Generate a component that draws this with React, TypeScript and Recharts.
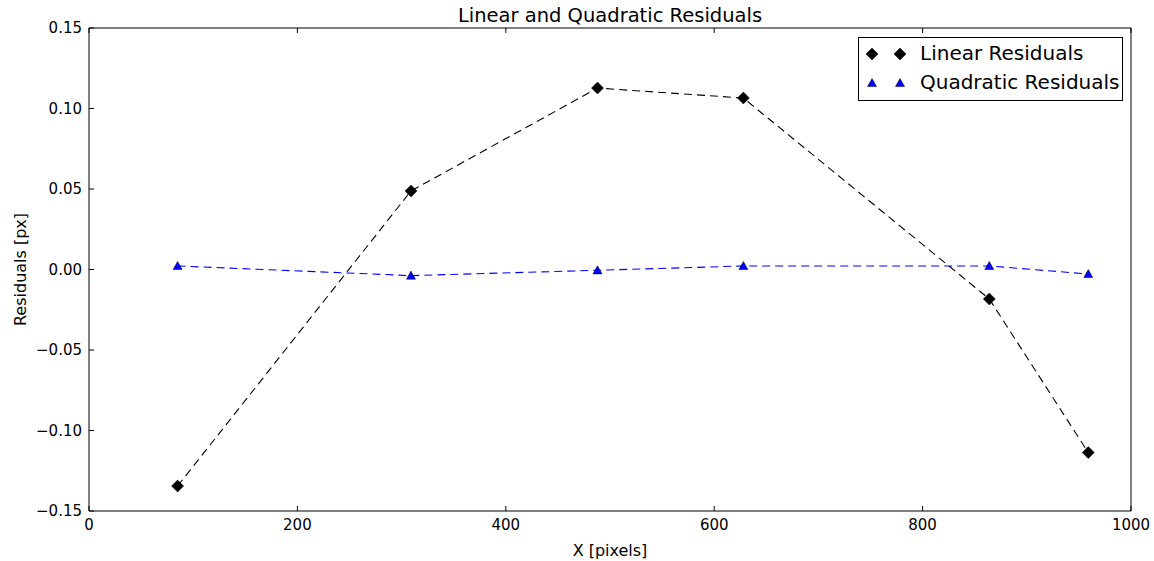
import React from "react";
import {
  ComposedChart,
  Line,
  XAxis,
  YAxis,
} from "recharts";

const xPixels = [85, 309, 488, 628, 864, 959];
const linearResiduals = [-0.1345, 0.0488, 0.1127, 0.1065, -0.0183, -0.1137];
const quadraticResiduals = [0.0022, -0.0038, -0.0005, 0.0022, 0.0022, -0.0028];
const xTicks = [0, 200, 400, 600, 800, 1000];
const yTicks = [-0.15, -0.1, -0.05, 0, 0.05, 0.1, 0.15];

const data = xPixels.map((x, i) => ({
  x,
  linear: linearResiduals[i],
  quad: quadraticResiduals[i],
}));

const FONT = "'DejaVu Sans', sans-serif";

const Diamond = (props: any) => {
  const { cx, cy } = props;
  if (cx == null || cy == null) return <g />;
  const r = 6;
  return (
    <path
      d={`M${cx},${cy - r}L${cx + r},${cy}L${cx},${cy + r}L${cx - r},${cy}Z`}
      fill="#000"
      stroke="#000"
      strokeWidth={0.5}
    />
  );
};

const Triangle = (props: any) => {
  const { cx, cy } = props;
  if (cx == null || cy == null) return <g />;
  const r = 4.5;
  return (
    <path
      d={`M${cx},${cy - r}L${cx + r},${cy + r * 0.8}L${cx - r},${cy + r * 0.8}Z`}
      fill="#0000ff"
      stroke="#000"
      strokeWidth={0.5}
    />
  );
};

const fmtY = (v: number) => {
  const s = Math.abs(v).toFixed(2);
  return v < -1e-9 ? "\u2212" + s : s;
};

const LegendBox = () => (
  <div
    style={{
      position: "absolute",
      left: 858,
      top: 37,
      border: "1px solid #000",
      background: "#fff",
      width: 265,
      height: 64,
      boxSizing: "border-box",
      fontFamily: FONT,
      fontSize: 20,
      color: "#000",
    }}
  >
    <svg width={60} height={62} style={{ position: "absolute", left: 0, top: 0 }}>
      <Diamond cx={13} cy={16} />
      <Diamond cx={41} cy={16} />
      <Triangle cx={13} cy={45} />
      <Triangle cx={41} cy={45} />
    </svg>
    <div style={{ position: "absolute", left: 61, top: 4, lineHeight: "22px", whiteSpace: "nowrap" }}>
      Linear Residuals
    </div>
    <div style={{ position: "absolute", left: 61, top: 33, lineHeight: "22px", whiteSpace: "nowrap" }}>
      Quadratic Residuals
    </div>
  </div>
);

export default function App() {
  return (
    <div style={{ position: "absolute", left: 0, top: 0, width: 1154, height: 561, background: "#fff" }}>
      <ComposedChart
        width={1154}
        height={561}
        data={data}
        margin={{ top: 27, right: 22, bottom: 0, left: 0 }}
        style={{ position: "absolute", left: 0, top: 0 }}
      >
        <XAxis
          xAxisId="b"
          dataKey="x"
          type="number"
          domain={[0, 1000]}
          ticks={xTicks}
          orientation="bottom"
          height={50}
          stroke="#000"
          tickSize={-5}
          tickMargin={13}
          tick={{ fontFamily: FONT, fontSize: 15, fill: "#000" }}
          axisLine={{ stroke: "#000", strokeWidth: 1 }}
          label={{ value: "X [pixels]", position: "insideBottom", offset: 5, fontFamily: FONT, fontSize: 16, fill: "#000" }}
        />
        <XAxis
          xAxisId="t"
          dataKey="x"
          type="number"
          domain={[0, 1000]}
          ticks={xTicks}
          orientation="top"
          height={1}
          stroke="#000"
          tickSize={-5}
          tick={() => <g />}
          axisLine={{ stroke: "#000", strokeWidth: 1 }}
        />
        <YAxis
          yAxisId="l"
          type="number"
          domain={[-0.15, 0.15]}
          ticks={yTicks}
          orientation="left"
          width={89}
          stroke="#000"
          tickSize={-5}
          tickMargin={12}
          tickFormatter={fmtY}
          tick={{ fontFamily: FONT, fontSize: 15, fill: "#000" }}
          axisLine={{ stroke: "#000", strokeWidth: 1 }}
          label={{
            value: "Residuals [px]",
            angle: -90,
            position: "insideLeft",
            offset: 20,
            style: { textAnchor: "middle" },
            fontFamily: FONT,
            fontSize: 16,
            fill: "#000",
          }}
        />
        <YAxis
          yAxisId="r"
          type="number"
          domain={[-0.15, 0.15]}
          ticks={yTicks}
          orientation="right"
          width={1}
          stroke="#000"
          tickSize={-5}
          tick={() => <g />}
          axisLine={{ stroke: "#000", strokeWidth: 1 }}
        />
        <Line
          xAxisId="b"
          yAxisId="l"
          dataKey="linear"
          name="Linear Residuals"
          stroke="#000"
          strokeWidth={1.1}
          strokeDasharray="8 5"
          dot={<Diamond />}
          activeDot={false}
          isAnimationActive={false}
        />
        <Line
          xAxisId="b"
          yAxisId="l"
          dataKey="quad"
          name="Quadratic Residuals"
          stroke="#0000ff"
          strokeWidth={1.1}
          strokeDasharray="8 5"
          dot={<Triangle />}
          activeDot={false}
          isAnimationActive={false}
        />
      </ComposedChart>
      <div
        style={{
          position: "absolute",
          left: 89,
          width: 1042,
          top: 4,
          textAlign: "center",
          fontFamily: FONT,
          fontSize: 19.5,
          color: "#000",
          lineHeight: "24px",
        }}
      >
        Linear and Quadratic Residuals
      </div>
      <LegendBox />
    </div>
  );
}
